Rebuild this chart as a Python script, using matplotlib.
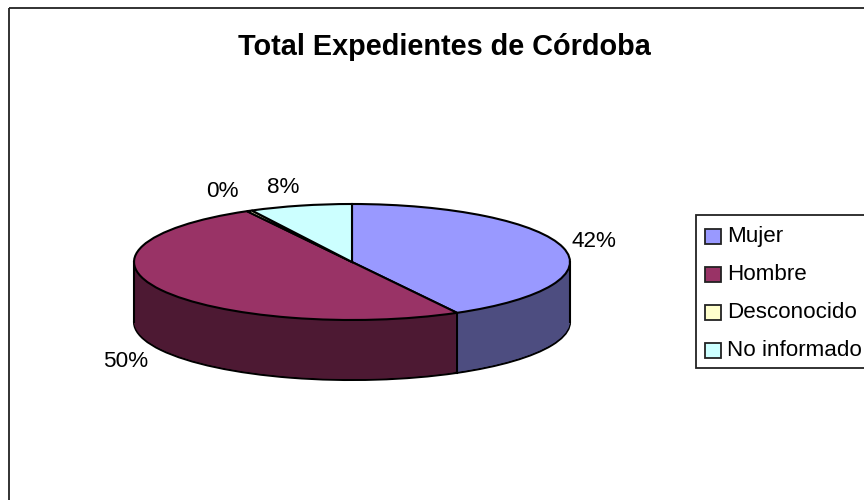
import numpy as np
import matplotlib
matplotlib.use("Agg")
import matplotlib.pyplot as plt
from matplotlib.patches import Patch, Rectangle
from matplotlib.legend_handler import HandlerPatch
from matplotlib.transforms import Affine2D

plt.rcParams['font.family'] = ['Liberation Sans', 'DejaVu Sans']

title = "Total Expedientes de Córdoba"
categories = ["Mujer", "Hombre", "Desconocido", "No informado"]
values = [42.0, 50.0, 0.4, 7.6]
top_colors = ["#9999FF", "#993366", "#FFFFCC", "#CCFFFF"]
side_colors = ["#4D4D80", "#4D1933", "#808066", "#668080"]
label_xy = [(593.5, 247), (125.5, 367), (222, 197), (283, 193)]

W, H = 864, 500
CX, CY, RX, RY, DEPTH = 352, 262, 218, 58, 60

fig = plt.figure(figsize=(W / 100, H / 100), dpi=100, facecolor="white")
ax = fig.add_axes([0, 0, 1, 1])
pix = Affine2D().scale(1, -1).translate(0, H)

d_units = DEPTH / RY
for i, d in enumerate(np.arange(DEPTH, 0, -1) / RY):
    edge = {"linewidth": 1.5, "edgecolor": "black"} if i == 0 else {"linewidth": 0}
    ax.pie(values, colors=side_colors, startangle=90, counterclock=False,
           center=(0, -d), radius=1, wedgeprops=edge, normalize=True)
ax.pie(values, colors=top_colors, startangle=90, counterclock=False,
       center=(0, 0), radius=1, normalize=True,
       wedgeprops={"linewidth": 1.5, "edgecolor": "black"})

ax.set_aspect("auto")
ax.set_xlim((0 - CX) / RX, (W - CX) / RX)
ax.set_ylim((CY - H) / RY, CY / RY)

# vertical edges of the extruded side
frac = np.cumsum(values) / np.sum(values)
a = 2 * np.pi * frac[0]
for x, y in [(np.sin(a), np.cos(a)), (1, 0), (-1, 0)]:
    ax.plot([x, x], [y, y - d_units], color="black", lw=1.5, zorder=5)

# outer chart frame and legend frame
fig.add_artist(Rectangle((9, 8), 900, 540, transform=pix, fill=False,
                         edgecolor="#222222", lw=1.3))
fig.add_artist(Rectangle((696, 215), 200, 153, transform=pix, facecolor="white",
                         edgecolor="#222222", lw=1.3))

fig.text(444, 55, title, transform=pix, fontsize=20.8, fontweight="bold",
         ha="center", va="baseline", color="black")

pct = [f"{round(v / sum(values) * 100):d}%" for v in values]
for t, (x, y) in zip(pct, label_xy):
    fig.text(x, y, t, transform=pix, fontsize=16.2, ha="center", va="baseline", color="black")


def lowered_square(legend, orig_handle, xdescent, ydescent, width, height, fontsize):
    return Rectangle((-xdescent, -ydescent - 1.44), width, height)


handles = [Patch(facecolor=c, edgecolor="#222222", linewidth=1.3) for c in top_colors]
leg = fig.legend(handles, categories, loc="upper left",
                 bbox_to_anchor=(696, 217), bbox_transform=pix,
                 prop={"size": 16.1}, frameon=False,
                 handler_map={Patch: HandlerPatch(patch_func=lowered_square)},
                 handlelength=0.68, handleheight=0.68, handletextpad=0.27,
                 labelspacing=0.76, borderpad=0.42, borderaxespad=0)

fig.savefig("out.png", dpi=100)
